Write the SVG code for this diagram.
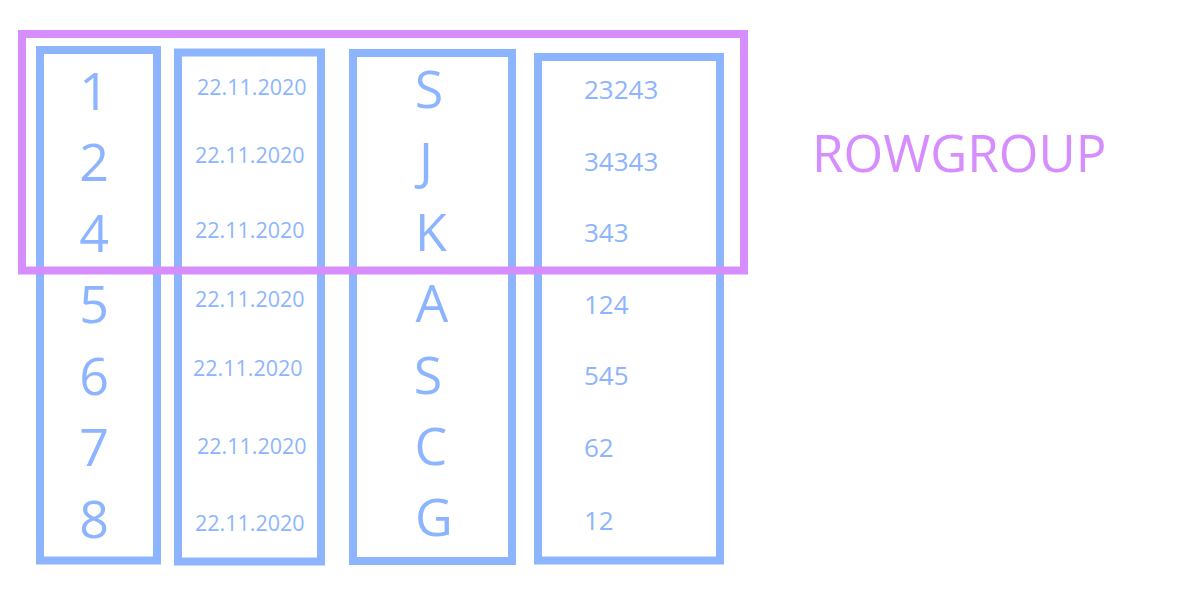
<svg xmlns="http://www.w3.org/2000/svg" width="1200" height="600" viewBox="0 0 1200 600">
  <style>
    .col { fill: none; stroke: #8DB5FF; stroke-width: 8; }
    .grp { fill: none; stroke: #D68EFF; stroke-width: 8; }
    .t { font-family: "Open Sans", "Liberation Sans", sans-serif; fill: #8DB5FF; }
    .big { font-size: 52px; text-anchor: middle; }
    .date { font-size: 21.5px; }
    .num { font-size: 26px; }
    .lbl { font-family: "Open Sans", "Liberation Sans", sans-serif; fill: #D68EFF; font-size: 51px; }
  </style>
  <rect width="1200" height="600" fill="#FFFFFF"/>
  <g id="connectors"/>
  <g id="col-id">
    <rect class="col" x="40" y="50" width="117" height="510.5"/>
    <text class="t big" x="94" y="110">1</text>
    <text class="t big" x="94" y="181">2</text>
    <text class="t big" x="94" y="252">4</text>
    <text class="t big" x="94" y="323">5</text>
    <text class="t big" x="94" y="395">6</text>
    <text class="t big" x="94" y="466">7</text>
    <text class="t big" x="94" y="538">8</text>
  </g>
  <g id="col-date">
    <rect class="col" x="178" y="52.5" width="143" height="509"/>
    <text class="t date" x="197" y="95">22.11.2020</text>
    <text class="t date" x="195" y="163">22.11.2020</text>
    <text class="t date" x="195" y="238">22.11.2020</text>
    <text class="t date" x="195" y="307">22.11.2020</text>
    <text class="t date" x="193" y="376">22.11.2020</text>
    <text class="t date" x="197" y="454">22.11.2020</text>
    <text class="t date" x="195" y="531">22.11.2020</text>
  </g>
  <g id="col-letter">
    <rect class="col" x="353" y="53" width="159" height="508"/>
    <text class="t big" x="429" y="108">S</text>
    <text class="t big" x="426" y="180">J</text>
    <text class="t big" x="431" y="251">K</text>
    <text class="t big" x="432" y="322">A</text>
    <text class="t big" x="428" y="394">S</text>
    <text class="t big" x="431" y="465">C</text>
    <text class="t big" x="434" y="536">G</text>
  </g>
  <g id="col-value">
    <rect class="col" x="538" y="57" width="182" height="503.5"/>
    <text class="t num" x="584" y="99">23243</text>
    <text class="t num" x="584" y="171">34343</text>
    <text class="t num" x="584" y="242">343</text>
    <text class="t num" x="584" y="314">124</text>
    <text class="t num" x="584" y="385">545</text>
    <text class="t num" x="584" y="457">62</text>
    <text class="t num" x="584" y="530">12</text>
  </g>
  <g id="rowgroup">
    <rect class="grp" x="22" y="34" width="722" height="236.5"/>
  </g>
  <g id="rowgroup-label">
    <text class="lbl" x="812" y="172">ROWGROUP</text>
  </g>
</svg>
